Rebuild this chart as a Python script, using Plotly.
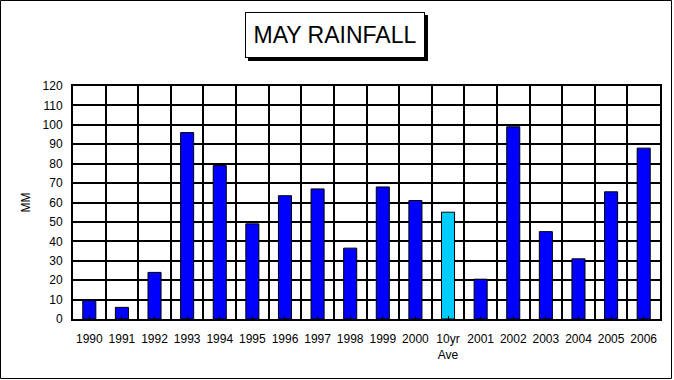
import plotly.graph_objects as go

categories = ["1990", "1991", "1992", "1993", "1994", "1995", "1996", "1997", "1998",
              "1999", "2000", "10yr<br>Ave", "2001", "2002", "2003", "2004", "2005", "2006"]
rainfall_mm = [9.5, 6, 24, 96, 79, 49, 63.5, 67, 36.5, 68, 61, 55, 20.5, 99, 45, 31, 65.5, 88]
bar_colors = ["#0000FF"] * 11 + ["#00CCFF"] + ["#0000FF"] * 6
y_ticks = list(range(0, 121, 10))

W, H = 674, 380
ML, MR, MT, MB = 73, 14, 86, 61
PW, PH = W - ML - MR, H - MT - MB

x_pos = list(range(len(categories)))
font = "Arial, Liberation Sans, sans-serif"

fig = go.Figure(go.Bar(
    x=x_pos, y=rainfall_mm,
    marker=dict(color=bar_colors, line=dict(color="black", width=1)),
    width=0.4, showlegend=False,
))

def px2paper_x(px):
    return (px - ML) / PW

def px2paper_y(py):
    return (H - MB - py) / PH

fig.update_layout(
    width=W, height=H,
    margin=dict(l=ML, r=MR, t=MT, b=MB),
    paper_bgcolor="white", plot_bgcolor="white",
    font=dict(family=font, size=12, color="black"),
    xaxis=dict(
        range=[-0.5, len(categories) - 0.5],
        tickmode="array", tickvals=x_pos, ticktext=categories,
        showgrid=False, zeroline=False,
        ticks="inside", ticklen=3, tickwidth=1, tickcolor="black",
        showline=True, linecolor="black", linewidth=2, mirror=True,
        minor=dict(tickmode="linear", tick0=0.5, dtick=1, showgrid=True,
                   gridcolor="black", gridwidth=2, ticks=""),
        ticklabelstandoff=8,
        tickfont=dict(size=12),
    ),
    yaxis=dict(
        range=[0, 120], tickmode="array", tickvals=y_ticks,
        showgrid=True, gridcolor="black", gridwidth=2, zeroline=False,
        showline=True, linecolor="black", linewidth=2, mirror=True,
        ticks="", ticklabelstandoff=6,
        title=dict(text="MM", standoff=9, font=dict(size=12)),
        tickfont=dict(size=12),
    ),
)

# outer frame of the figure
fig.add_shape(type="rect", xref="paper", yref="paper",
              x0=px2paper_x(0.5), x1=px2paper_x(W - 2.5),
              y0=px2paper_y(H - 1.5), y1=px2paper_y(0.5),
              line=dict(color="black", width=1), fillcolor="rgba(0,0,0,0)", layer="above")

# title box with shadow
cx, cy = 334.5, 34.5
fig.add_annotation(
    x=px2paper_x(cx), y=px2paper_y(cy), xref="paper", yref="paper",
    text=" ", showarrow=False, font=dict(family=font, size=23),
    bgcolor="black", bordercolor="black", borderwidth=1,
    width=176, height=42, xshift=3, yshift=-3,
    xanchor="center", yanchor="middle",
)
fig.add_annotation(
    x=px2paper_x(cx), y=px2paper_y(cy), xref="paper", yref="paper",
    text="MAY RAINFALL", showarrow=False,
    font=dict(family=font, size=23, color="black"),
    bgcolor="white", bordercolor="black", borderwidth=1,
    width=176, height=42,
    xanchor="center", yanchor="middle",
)

fig.write_html("out.html", config={"displayModeBar": False},
               post_script="document.body.style.margin='0';document.body.style.overflow='hidden';")
